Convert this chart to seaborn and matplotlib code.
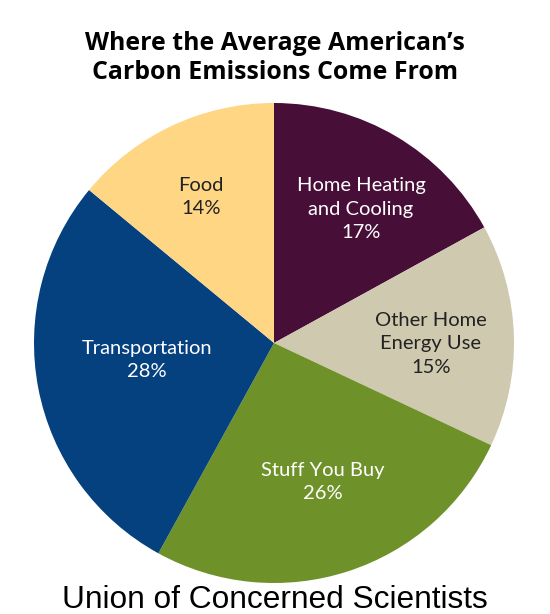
import matplotlib
matplotlib.use("Agg")
import matplotlib.pyplot as plt
import seaborn as sns

# chart data
categories = ["Home Heating\nand Cooling", "Other Home\nEnergy Use", "Stuff You Buy", "Transportation", "Food"]
shares = [17, 15, 26, 28, 14]
colors = ["#470e38", "#cfc9af", "#6e9229", "#05407f", "#fed684"]
label_colors = ["white", "#222222", "white", "white", "#222222"]
title = "Where the Average American’s\nCarbon Emissions Come From"
footer = "Union of Concerned Scientists"

sns.set_theme(style="white")
plt.rcParams["font.family"] = ["Lato", "DejaVu Sans"]

fig = plt.figure(figsize=(5.5, 6.14), dpi=100)
ax = fig.add_axes([0.0, 0.0, 1.0, 1.0])

# pixel space, pie centre is at (274, 343) from the top
ax.pie(shares, colors=colors, startangle=90, counterclock=False,
       center=(274, 614 - 343), radius=240, frame=True,
       wedgeprops={"linewidth": 0})
ax.set_xlim(0, 550)
ax.set_ylim(0, 614)
ax.set_aspect("equal")
ax.axis("off")

# labels
centers = [(361, 209), (431, 344), (323, 482), (147, 360), (201, 197)]
for (x, y), cat, val, col in zip(centers, categories, shares, label_colors):
    ax.text(x, 614 - y, f"{cat}\n{val}%", ha="center", va="center", color=col,
            fontsize=14.5, linespacing=1.47)

fig.text(0.5, 0.9055, title, ha="center", va="center", fontsize=17.9, fontweight="bold",
         color="black", linespacing=1.22, family=["Open Sans"])
fig.text(0.5, 0.0235, footer, ha="center", va="center", fontsize=22.8, color="black",
         family=["Liberation Sans"])

fig.savefig("out.png", dpi=100)
